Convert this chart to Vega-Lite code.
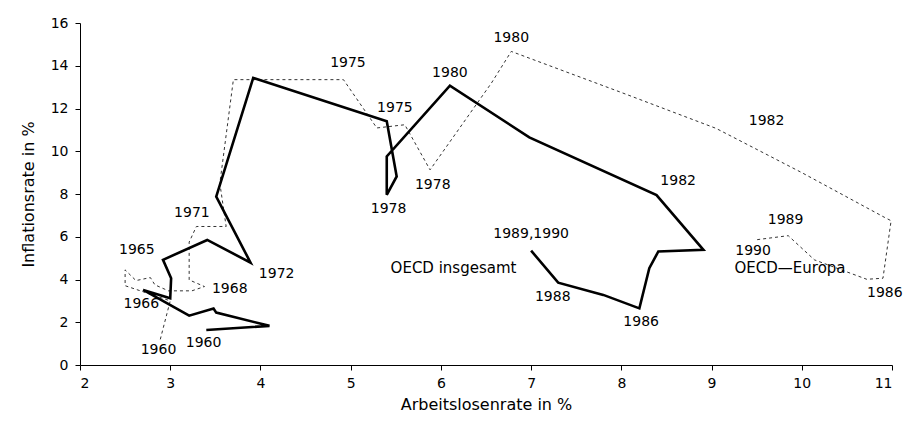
{
  "$schema": "https://vega.github.io/schema/vega-lite/v6.json",
  "autosize": "none",
  "width": 812,
  "height": 342,
  "padding": {"left": 80, "top": 23, "right": 25, "bottom": 59},
  "background": "white",
  "config": {
    "view": {"stroke": null},
    "font": "DejaVu Sans",
    "axis": {
      "domainColor": "black",
      "tickColor": "black",
      "labelColor": "black",
      "titleColor": "black",
      "labelFont": "DejaVu Sans",
      "titleFont": "DejaVu Sans",
      "labelFontSize": 14,
      "titleFontSize": 16,
      "titleFontWeight": "normal",
      "grid": false,
      "tickSize": 5,
      "domainWidth": 1,
      "tickWidth": 1
    }
  },
  "datasets": {
    "pts": [
      {"series": "OECD insgesamt", "i": 1, "x": 3.40, "y": 1.64},
      {"series": "OECD insgesamt", "i": 2, "x": 4.10, "y": 1.83},
      {"series": "OECD insgesamt", "i": 3, "x": 3.51, "y": 2.45},
      {"series": "OECD insgesamt", "i": 4, "x": 3.48, "y": 2.64},
      {"series": "OECD insgesamt", "i": 5, "x": 3.21, "y": 2.31},
      {"series": "OECD insgesamt", "i": 6, "x": 2.70, "y": 3.51},
      {"series": "OECD insgesamt", "i": 7, "x": 3.00, "y": 3.12},
      {"series": "OECD insgesamt", "i": 8, "x": 3.01, "y": 4.06},
      {"series": "OECD insgesamt", "i": 9, "x": 2.92, "y": 4.92},
      {"series": "OECD insgesamt", "i": 10, "x": 3.41, "y": 5.85},
      {"series": "OECD insgesamt", "i": 11, "x": 3.89, "y": 4.79},
      {"series": "OECD insgesamt", "i": 12, "x": 3.51, "y": 7.88},
      {"series": "OECD insgesamt", "i": 13, "x": 3.92, "y": 13.43},
      {"series": "OECD insgesamt", "i": 14, "x": 5.40, "y": 11.40},
      {"series": "OECD insgesamt", "i": 15, "x": 5.51, "y": 8.82},
      {"series": "OECD insgesamt", "i": 16, "x": 5.40, "y": 7.96},
      {"series": "OECD insgesamt", "i": 17, "x": 5.40, "y": 9.76},
      {"series": "OECD insgesamt", "i": 18, "x": 6.10, "y": 13.07},
      {"series": "OECD insgesamt", "i": 19, "x": 6.98, "y": 10.65},
      {"series": "OECD insgesamt", "i": 20, "x": 8.39, "y": 7.95},
      {"series": "OECD insgesamt", "i": 21, "x": 8.91, "y": 5.39},
      {"series": "OECD insgesamt", "i": 22, "x": 8.41, "y": 5.31},
      {"series": "OECD insgesamt", "i": 23, "x": 8.31, "y": 4.53},
      {"series": "OECD insgesamt", "i": 24, "x": 8.20, "y": 2.65},
      {"series": "OECD insgesamt", "i": 25, "x": 7.80, "y": 3.28},
      {"series": "OECD insgesamt", "i": 26, "x": 7.30, "y": 3.85},
      {"series": "OECD insgesamt", "i": 27, "x": 7.00, "y": 5.35}
    ],
    "eu": [
      {"series": "OECD-Europa", "i": 1, "x": 2.89, "y": 1.20},
      {"series": "OECD-Europa", "i": 2, "x": 3.00, "y": 3.00},
      {"series": "OECD-Europa", "i": 3, "x": 2.50, "y": 3.71},
      {"series": "OECD-Europa", "i": 4, "x": 2.50, "y": 4.45},
      {"series": "OECD-Europa", "i": 5, "x": 2.62, "y": 3.95},
      {"series": "OECD-Europa", "i": 6, "x": 2.78, "y": 4.09},
      {"series": "OECD-Europa", "i": 7, "x": 2.83, "y": 3.75},
      {"series": "OECD-Europa", "i": 8, "x": 2.98, "y": 3.47},
      {"series": "OECD-Europa", "i": 9, "x": 3.24, "y": 3.47},
      {"series": "OECD-Europa", "i": 10, "x": 3.38, "y": 3.67},
      {"series": "OECD-Europa", "i": 11, "x": 3.21, "y": 3.98},
      {"series": "OECD-Europa", "i": 12, "x": 3.21, "y": 5.75},
      {"series": "OECD-Europa", "i": 13, "x": 3.29, "y": 6.48},
      {"series": "OECD-Europa", "i": 14, "x": 3.62, "y": 6.48},
      {"series": "OECD-Europa", "i": 15, "x": 3.55, "y": 8.50},
      {"series": "OECD-Europa", "i": 16, "x": 3.70, "y": 13.35},
      {"series": "OECD-Europa", "i": 17, "x": 4.92, "y": 13.35},
      {"series": "OECD-Europa", "i": 18, "x": 5.29, "y": 11.09},
      {"series": "OECD-Europa", "i": 19, "x": 5.60, "y": 11.24},
      {"series": "OECD-Europa", "i": 20, "x": 5.88, "y": 9.13},
      {"series": "OECD-Europa", "i": 21, "x": 6.56, "y": 13.19},
      {"series": "OECD-Europa", "i": 22, "x": 6.78, "y": 14.67},
      {"series": "OECD-Europa", "i": 23, "x": 8.00, "y": 12.75},
      {"series": "OECD-Europa", "i": 24, "x": 9.05, "y": 11.07},
      {"series": "OECD-Europa", "i": 25, "x": 10.00, "y": 9.00},
      {"series": "OECD-Europa", "i": 26, "x": 10.92, "y": 6.90},
      {"series": "OECD-Europa", "i": 27, "x": 10.99, "y": 6.75},
      {"series": "OECD-Europa", "i": 28, "x": 10.90, "y": 4.06},
      {"series": "OECD-Europa", "i": 29, "x": 10.72, "y": 4.01},
      {"series": "OECD-Europa", "i": 30, "x": 10.14, "y": 4.92},
      {"series": "OECD-Europa", "i": 31, "x": 9.85, "y": 6.05},
      {"series": "OECD-Europa", "i": 32, "x": 9.48, "y": 5.85}
    ],
    "labels": [
      {"x": 4.97, "y": 14.13, "t": "1975", "s": 14},
      {"x": 6.78, "y": 15.30, "t": "1980", "s": 14},
      {"x": 6.10, "y": 13.66, "t": "1980", "s": 14},
      {"x": 5.49, "y": 12.02, "t": "1975", "s": 14},
      {"x": 5.91, "y": 8.43, "t": "1978", "s": 14},
      {"x": 5.42, "y": 7.29, "t": "1978", "s": 14},
      {"x": 9.61, "y": 11.40, "t": "1982", "s": 14},
      {"x": 8.63, "y": 8.59, "t": "1982", "s": 14},
      {"x": 9.82, "y": 6.80, "t": "1989", "s": 14},
      {"x": 9.46, "y": 5.31, "t": "1990", "s": 14},
      {"x": 9.87, "y": 4.53, "t": "OECD—Europa", "s": 15},
      {"x": 10.92, "y": 3.36, "t": "1986", "s": 14},
      {"x": 8.22, "y": 2.03, "t": "1986", "s": 14},
      {"x": 7.24, "y": 3.17, "t": "1988", "s": 14},
      {"x": 7.00, "y": 6.14, "t": "1989,1990", "s": 14},
      {"x": 6.14, "y": 4.53, "t": "OECD  insgesamt", "s": 15},
      {"x": 3.24, "y": 7.13, "t": "1971", "s": 14},
      {"x": 2.63, "y": 5.39, "t": "1965", "s": 14},
      {"x": 4.18, "y": 4.26, "t": "1972", "s": 14},
      {"x": 3.66, "y": 3.54, "t": "1968", "s": 14},
      {"x": 2.68, "y": 2.86, "t": "1966", "s": 14},
      {"x": 2.87, "y": 0.70, "t": "1960", "s": 14},
      {"x": 3.37, "y": 1.02, "t": "1960", "s": 14}
    ]
  },
  "encoding": {
    "x": {
      "field": "x", "type": "quantitative",
      "scale": {"domain": [2, 11], "nice": false, "zero": false},
      "axis": {"title": "Arbeitslosenrate in %", "values": [2,3,4,5,6,7,8,9,10,11], "labelPadding": 6, "titlePadding": 6, "format": "d"}
    },
    "y": {
      "field": "y", "type": "quantitative",
      "scale": {"domain": [0, 16], "nice": false},
      "axis": {"title": "Inflationsrate in %", "values": [0,2,4,6,8,10,12,14,16], "labelPadding": 7, "titlePadding": 14, "format": "d"}
    }
  },
  "layer": [
    {
      "data": {"name": "eu"},
      "mark": {"type": "line", "color": "#333333", "strokeWidth": 1, "strokeDash": [3, 3]},
      "encoding": {"order": {"field": "i", "type": "quantitative"}}
    },
    {
      "data": {"name": "pts"},
      "mark": {"type": "line", "color": "black", "strokeWidth": 2.6, "strokeJoin": "miter"},
      "encoding": {"order": {"field": "i", "type": "quantitative"}}
    },
    {
      "data": {"name": "labels"},
      "mark": {"type": "text", "font": "DejaVu Sans", "color": "black", "align": "center", "baseline": "middle"},
      "encoding": {
        "text": {"field": "t", "type": "nominal"},
        "size": {"field": "s", "type": "quantitative", "scale": null, "legend": null}
      }
    }
  ]
}
